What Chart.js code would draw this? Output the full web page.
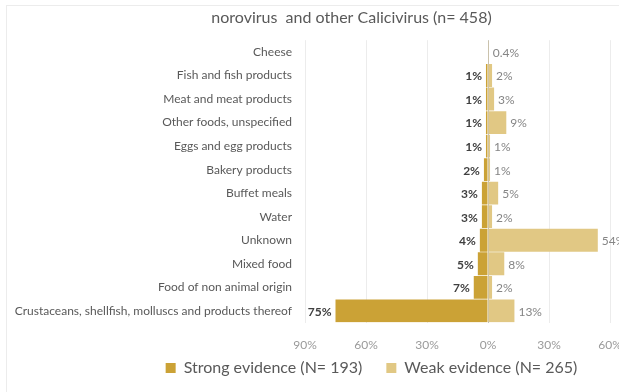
<!DOCTYPE html>
<html>
<head>
<meta charset="utf-8">
<script src="https://cdn.jsdelivr.net/npm/chart.js@4"></script>
<style>
html,body{margin:0;padding:0;background:#fff;}
#wrap{position:absolute;left:0;top:0;width:619px;height:392px;overflow:hidden;}
#frame{position:absolute;left:6px;top:5px;width:640px;height:400px;border:1px solid #ececec;}
canvas{position:absolute;left:0;top:0;}
</style>
</head>
<body>
<div id="wrap"><div id="frame"></div><canvas id="c" width="619" height="392"></canvas></div>
<script>
const categories = ["Cheese","Fish and fish products","Meat and meat products","Other foods, unspecified","Eggs and egg products","Bakery products","Buffet meals","Water","Unknown","Mixed food","Food of non animal origin","Crustaceans, shellfish, molluscs and products thereof"];
const strongEvidence = [0,1,1,1,1,2,3,3,4,5,7,75];
const weakEvidence = [0.4,2,3,9,1,1,5,2,54,8,2,13];
const xTicks = [-90,-60,-30,0,30,60];
const seriesNames = ["Strong evidence (N= 193)","Weak evidence (N= 265)"];
const titleText = "norovirus  and other Calicivirus (n= 458)";

const FONT = "Lato, 'Open Sans', sans-serif";

const labelPlugin = {
  id: 'barLabels',
  afterDatasetsDraw(chart) {
    const ctx = chart.ctx;
    ctx.save();
    ctx.textBaseline = 'middle';
    chart.data.datasets.forEach((ds, di) => {
      const meta = chart.getDatasetMeta(di);
      meta.data.forEach((bar, i) => {
        const v = di === 0 ? strongEvidence[i] : weakEvidence[i];
        if (!v) return;
        const txt = v + '%';
        if (di === 0) {
          ctx.font = "bold 12px " + FONT;
          ctx.fillStyle = '#404040';
          ctx.textAlign = 'right';
          ctx.fillText(txt, bar.x - 4, bar.y + 1);
        } else {
          ctx.font = "12px " + FONT;
          ctx.fillStyle = '#858585';
          ctx.textAlign = 'left';
          ctx.fillText(txt, bar.x + 4, bar.y + 1);
        }
      });
    });
    ctx.restore();
  }
};

const placePlugin = {
  id: 'place',
  afterLayout(chart) {
    const lg = chart.legend;
    if (lg) {
      lg.left += 62; lg.right += 62;
      lg.top = 336; lg.bottom = 336 + 64;
    }
    const t = chart.titleBlock;
    if (t) { t.left += 42; t.right += 42; }
  }
};

new Chart(document.getElementById('c'), {
  type: 'bar',
  data: {
    labels: categories,
    datasets: [
      { label: seriesNames[0], data: strongEvidence.map(v => -v), backgroundColor: '#CBA236', borderWidth: 0, categoryPercentage: 1, barPercentage: 0.97 },
      { label: seriesNames[1], data: weakEvidence, backgroundColor: '#E1C884', borderWidth: 0, categoryPercentage: 1, barPercentage: 0.97 }
    ]
  },
  options: {
    indexAxis: 'y',
    responsive: false,
    animation: false,
    layout: { padding: { left: 0, right: 0, top: 0, bottom: -15 } },
    plugins: {
      title: { display: true, text: titleText, color: '#595959', font: { family: FONT, size: 16, weight: 'normal' }, padding: { top: 8, bottom: 13 } },
      legend: {
        position: 'bottom',
        maxHeight: 40,
        labels: { color: '#595959', font: { family: FONT, size: 16 }, boxWidth: 10, boxHeight: 10, padding: 24 }
      },
      tooltip: { enabled: false }
    },
    scales: {
      x: {
        stacked: true,
        min: -90, max: 60,
        afterBuildTicks(scale) { scale.ticks = xTicks.map(v => ({ value: v })); },
        afterFit(scale) { scale.paddingRight = 9; scale.paddingLeft = 0; },
        ticks: { color: '#9a9a9a', font: { family: FONT, size: 12 }, callback: v => Math.abs(v) + '%', padding: 15, maxRotation: 0 },
        grid: { color: ctx => ctx.tick && ctx.tick.value === 0 ? '#bfbfbf' : '#ececec', drawTicks: false },
        border: { display: false }
      },
      y: {
        stacked: true,
        afterFit(scale) { scale.width = 305; },
        ticks: { color: '#595959', font: { family: FONT, size: 12 }, padding: 5, autoSkip: false },
        grid: { display: false },
        border: { display: false }
      }
    }
  },
  plugins: [labelPlugin, placePlugin]
});
</script>
</body>
</html>
